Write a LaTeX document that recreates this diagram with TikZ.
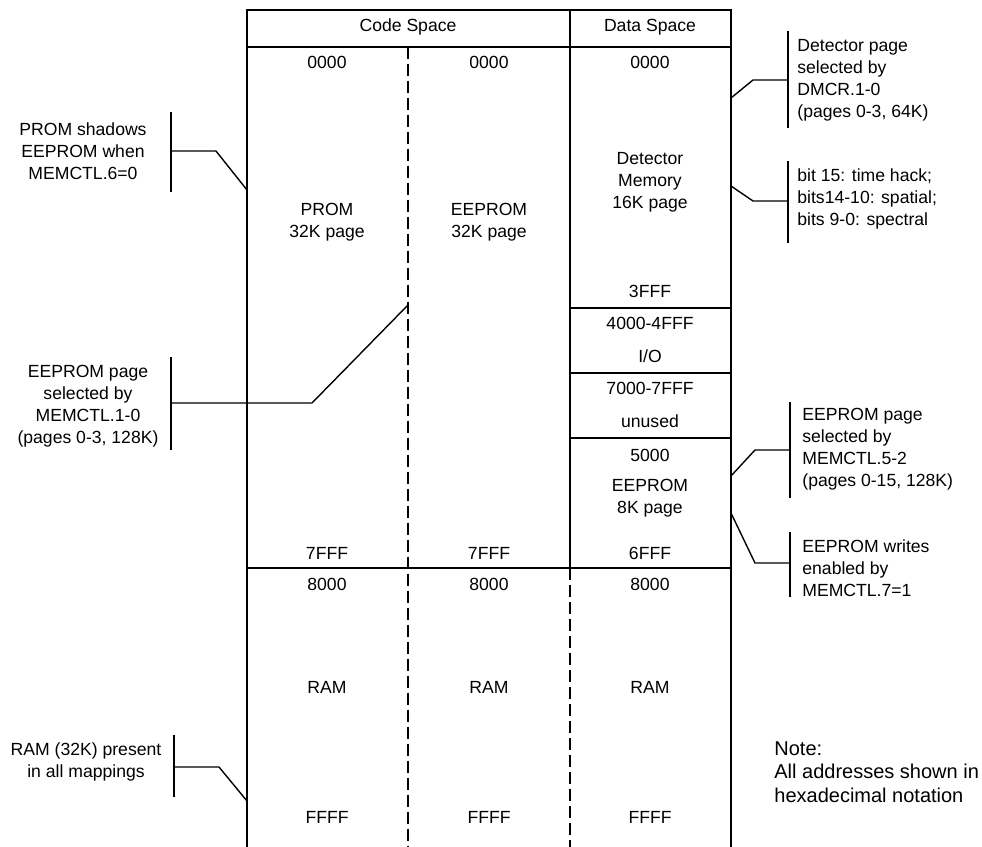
\documentclass[tikz,border=0pt]{standalone}
\usepackage{fontspec}
\setmainfont{Liberation Sans}
\usetikzlibrary{positioning,calc}

\begin{document}
\begin{tikzpicture}[x=0.5pt, y=-0.5pt,
	txt/.style={font=\fontsize{8.8}{11}\selectfont, inner sep=0pt, align=center},
	side/.style={txt, align=left, anchor=west},
	frame/.style={line width=0.9pt},
	sep/.style={line width=0.9pt, dash pattern=on 6pt off 2.5pt},
	lead/.style={line width=0.7pt}]

	\useasboundingbox (0,0) rectangle (982,847);

	% outline of the memory map
	\draw[frame] (247,847) -- (247,10) -- (731,10) -- (731,847);
	\draw[frame] (247,46.7) -- (731,46.7);
	\draw[frame] (570,10) -- (570,568);
	\draw[frame] (247,568) -- (731,568);
	\foreach \y in {308, 373, 438}{
		\draw[frame] (570,\y) -- (731,\y);
	}
	\draw[sep] (408,46.7) -- (408,847);
	\draw[sep] (570,568) -- (570,847);

	% headers
	\node[txt] (hcode) at (408,27) {Code Space};
	\node[txt] (hdata) at (650,27) {Data Space};

	% addresses in every column
	\foreach \x/\n in {327/a, 489/b, 650/c}{
		\node[txt] (top\n) at (\x,62) {0000};
		\node[txt] (ramtop\n) at (\x,584) {8000};
		\node[txt] (ram\n) at (\x,687) {RAM};
		\node[txt] (ramend\n) at (\x,817) {FFFF};
	}
	\node[txt] (enda) at (327,553) {7FFF};
	\node[txt] (endb) at (489,553) {7FFF};

	\node[txt] (prom) at (327,222) {PROM\\32K page};
	\node[txt] (eeprom) at (489,222) {EEPROM\\32K page};

	% data space
	\node[txt] (detmem) at (650,182) {Detector\\Memory\\16K page};
	\node[txt] (detend) at (650,291) {3FFF};
	\node[txt] (iorange) at (650,323) {4000-4FFF};
	\node[txt] (io) at (650,356) {I/O};
	\node[txt] (unrange) at (650,388) {7000-7FFF};
	\node[txt] (unused) at (650,421) {unused};
	\node[txt] (eetop) at (650,455) {5000};
	\node[txt] (eepage) at (650,498) {EEPROM\\8K page};
	\node[txt] (eeend) at (650,553) {6FFF};

	% side notes
	\node[txt] (shadow) at (83,151) {PROM shadows\\EEPROM when\\MEMCTL.6=0};
	\node[txt] (eesel) at (88,406) {EEPROM page\\selected by\\MEMCTL.1-0\\(pages 0-3, 128K)};
	\node[txt] (ramall) at (86,762) {RAM (32K) present\\in all mappings};
	\node[side] (detsel) at (797,80) {Detector page\\selected by\\DMCR.1-0\\(pages 0-3, 64K)};
	\node[side] (bits) at (797,199) {bit 15: time hack;\\bits14-10: spatial;\\bits 9-0: spectral};
	\node[side] (eedsel) at (802,449) {EEPROM page\\selected by\\MEMCTL.5-2\\(pages 0-15, 128K)};
	\node[side] (eewr) at (802,568) {EEPROM writes\\enabled by\\MEMCTL.7=1};
	\node[side, font=\fontsize{10}{11.8}\selectfont] (note) at (774,772)
		{Note:\\All addresses shown in\\hexadecimal notation};

	% brackets and leaders
	\foreach \n/\bx/\ya/\yb/\yt/\kx/\tx/\ty in {
		shadow/171/112/192/151/216/247/190,
		eesel/171/357/450/403/312/408/305,
		ramall/174/735/797/767/219/247/801,
		detsel/788/31/128/80/753/731/98,
		bits/788/161/243/201/753/731/186,
		eedsel/790/402/498/450/755/731/476,
		eewr/790/532/597/563/755/731/513}{
		\coordinate (\n bar) at (\bx,\yt);
		\coordinate (\n tip) at (\tx,\ty);
		\draw[lead] (\bx,\ya) -- (\bx,\yb);
		\draw[lead] (\n bar) -- (\kx,\yt) -- (\n tip);
	}

\end{tikzpicture}
\end{document}
